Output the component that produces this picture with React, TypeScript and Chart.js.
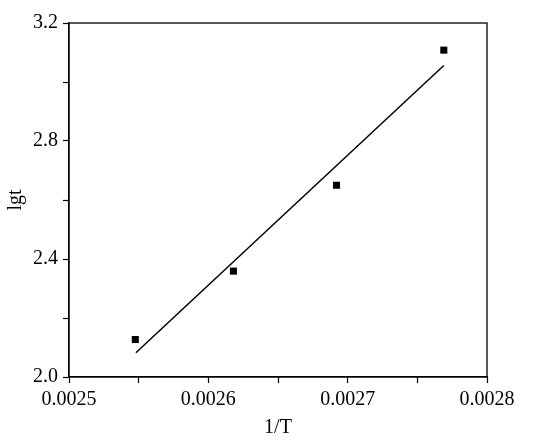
import React, { useEffect, useRef } from "react";
import { Chart, registerables } from "chart.js";

Chart.register(...registerables);

// Data
const invT: number[] = [0.0025476, 0.002618, 0.002692, 0.002769];
const lgt: number[] = [2.127, 2.359, 2.65, 3.108];
const fitX: number[] = [0.002548, 0.002769];
const fitY: number[] = [2.082, 3.056];

const xMin = 0.0025;
const xMax = 0.0028;
const xStep = 0.00005;
const yMin = 2.0;
const yMax = 3.2;
const yStep = 0.2;

const xTitle = "1/T";
const yTitle = "lgt";

const framePlugin = {
  id: "frame",
  afterDraw(chart: any) {
    const { ctx, chartArea } = chart;
    ctx.save();
    ctx.strokeStyle = "#000";
    ctx.lineWidth = 1.3;
    ctx.strokeRect(chartArea.left, chartArea.top, chartArea.right - chartArea.left, chartArea.bottom - chartArea.top);
    ctx.restore();
  },
};

export default function App() {
  const ref = useRef<HTMLCanvasElement | null>(null);
  useEffect(() => {
    if (!ref.current) return;
    Chart.defaults.font.family = "'Liberation Serif', serif";
    Chart.defaults.color = "#000";
    const chart = new Chart(ref.current, {
      type: "scatter",
      data: {
        datasets: [
          {
            label: "data",
            data: invT.map((x, i) => ({ x, y: lgt[i] })),
            pointStyle: "rect",
            pointRadius: 5,
            backgroundColor: "#000",
            borderColor: "#000",
            borderWidth: 0,
            showLine: false,
          },
          {
            label: "fit",
            data: fitX.map((x, i) => ({ x, y: fitY[i] })),
            showLine: true,
            pointRadius: 0,
            borderColor: "#000",
            borderWidth: 1.5,
            fill: false,
          },
        ],
      },
      options: {
        responsive: false,
        animation: false,
        layout: { padding: { top: 23, right: 63, left: 0, bottom: 0 } },
        plugins: { legend: { display: false }, tooltip: { enabled: false } },
        scales: {
          x: {
            type: "linear",
            min: xMin,
            max: xMax,
            afterFit: (s: any) => {
              s.height = 68;
            },
            ticks: {
              stepSize: xStep,
              autoSkip: false,
              maxRotation: 0,
              padding: 5,
              font: { size: 20 },
              color: "#000",
              callback: (v: any) => {
                const n = Math.round(Number(v) / xStep);
                return n % 2 === 0 ? Number(v).toFixed(4) : "";
              },
            },
            grid: {
              drawOnChartArea: false,
              drawTicks: true,
              tickLength: 6,
              tickColor: "#000",
              tickWidth: 1.2,
            },
            border: { display: true, color: "#000", width: 1.3 },
            title: {
              display: true,
              text: xTitle,
              font: { size: 20 },
              color: "#000",
              padding: { top: 0, bottom: 5 },
            },
          },
          y: {
            type: "linear",
            min: yMin,
            max: yMax,
            afterFit: (s: any) => {
              s.width = 69;
            },
            ticks: {
              stepSize: yStep,
              autoSkip: false,
              padding: 5,
              font: { size: 20 },
              color: "#000",
              callback: (v: any) => {
                const n = Math.round(Number(v) / yStep);
                return n % 2 === 0 ? Number(v).toFixed(1) : "";
              },
            },
            grid: {
              drawOnChartArea: false,
              drawTicks: true,
              tickLength: 6,
              tickColor: "#000",
              tickWidth: 1.2,
            },
            border: { display: true, color: "#000", width: 1.3 },
            title: {
              display: true,
              text: yTitle,
              font: { size: 20 },
              color: "#000",
              padding: { top: 4, bottom: 0 },
            },
          },
        },
      },
      plugins: [framePlugin],
    });
    return () => chart.destroy();
  }, []);
  return (
    <div style={{ position: "absolute", left: 0, top: 0, width: 550, height: 445, background: "#fff" }}>
      <canvas ref={ref} width={550} height={445} style={{ display: "block" }} />
    </div>
  );
}
